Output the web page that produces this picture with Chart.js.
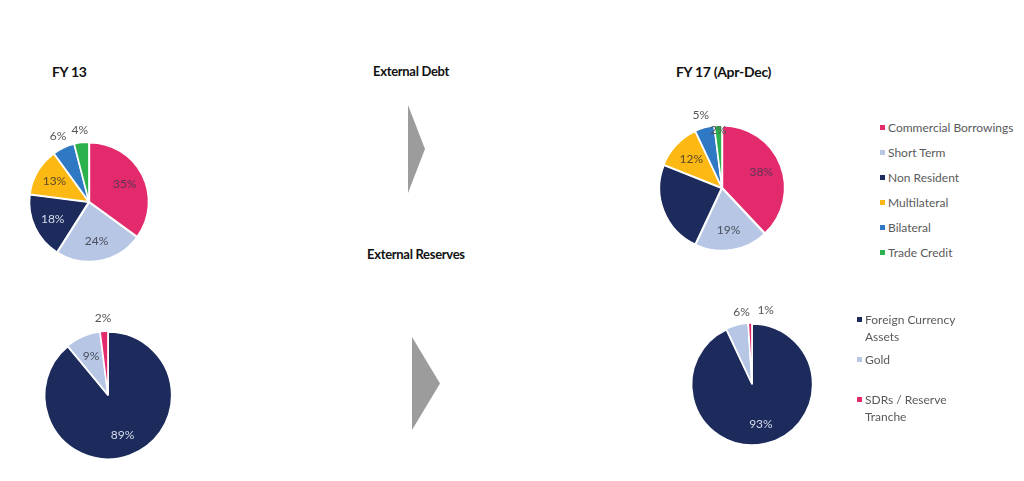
<!DOCTYPE html>
<html>
<head>
<meta charset="utf-8">
<script src="https://cdn.jsdelivr.net/npm/chart.js@4/dist/chart.umd.min.js"></script>
<style>
  body { margin: 0; background: #fff; font-family: Lato, "Open Sans", sans-serif; }
  #wrap { position: relative; width: 1024px; height: 481px; overflow: hidden; }
  canvas { position: absolute; }
  .title { position: absolute; font-weight: bold; color: #111; white-space: nowrap; letter-spacing: -0.3px; }
  .arrow { position: absolute; background: #9c9c9c; clip-path: polygon(0 0, 100% 50%, 0 100%); }
  .legend { position: absolute; font-size: 12px; color: #5a5a5a; line-height: 17px; }
  .legend .item { position: relative; padding-left: 8px; white-space: nowrap; }
  .legend .mark { position: absolute; left: 0; top: 6px; width: 5px; height: 5px; }
</style>
</head>
<body>
<div id="wrap">
  <div class="title" style="left:52px; top:63px; font-size:14px;">FY 13</div>
  <div class="title" style="left:373px; top:63px; font-size:13px;">External Debt</div>
  <div class="title" style="left:367px; top:246px; font-size:13px;">External Reserves</div>
  <div class="title" style="left:676px; top:63px; font-size:14px;">FY 17 (Apr-Dec)</div>
  <div class="arrow" style="left:408px; top:105px; width:17px; height:88px;"></div>
  <div class="arrow" style="left:412px; top:337px; width:28px; height:93px;"></div>
  <canvas id="debt13" width="220" height="220" style="left:-21px; top:92px;"></canvas>
  <canvas id="debt17" width="220" height="220" style="left:612px; top:78px;"></canvas>
  <canvas id="res13" width="220" height="220" style="left:-2px; top:285px;"></canvas>
  <canvas id="res17" width="220" height="220" style="left:642px; top:274px;"></canvas>
  <div class="legend" id="debtLegend" style="left:880px; top:119px;"></div>
  <div class="legend" id="resLegend" style="left:857px; top:311px;"></div>
</div>
<script>
// External debt composition (%)
const debtLabels = ['Commercial Borrowings', 'Short Term', 'Non Resident', 'Multilateral', 'Bilateral', 'Trade Credit'];
const debtFY13 = [35, 24, 18, 13, 6, 4];
const debtFY17 = [38, 19, 24, 12, 5, 2];

// External reserves composition (%)
const resLabels = ['Foreign Currency Assets', 'Gold', 'SDRs / Reserve Tranche'];
const resFY13 = [89, 9, 2];
const resFY17 = [93, 6, 1];

const debtColors = ['#e32a6d', '#b6c6e4', '#1d2b5c', '#fdb913', '#2f78c4', '#2bb24c'];
const resColors = ['#1d2b5c', '#b6c6e4', '#e32a6d'];

// label text colour by slice colour
const labelInk = {
    '#e32a6d': '#5d3553',
    '#b6c6e4': '#4a4f5c',
    '#1d2b5c': '#d6dcea',
    '#fdb913': '#5a4a2a',
    '#2f78c4': '#555555',
    '#2bb24c': '#555555'
};

// draws the percent labels on or beside each slice
const sliceLabels = {
    id: 'sliceLabels',
    afterDatasetsDraw(chart, args, opts) {
        const ctx = chart.ctx;
        const ds = chart.data.datasets[0];
        const hide = opts.hide || [];
        const near = opts.near || {};
        const shift = opts.shift || {};
        chart.getDatasetMeta(0).data.forEach((arc, i) => {
            if (hide.includes(i)) return;
            const v = ds.data[i];
            const p = arc.getProps(['x', 'y', 'startAngle', 'endAngle', 'outerRadius']);
            const mid = (p.startAngle + p.endAngle) / 2;
            const outside = v <= 6;
            let ratio = outside ? 1.23 : 0.68;
            if (near[i] !== undefined) ratio = near[i];
            let x = p.x + Math.cos(mid) * p.outerRadius * ratio;
            const y = p.y + Math.sin(mid) * p.outerRadius * ratio;
            if (shift[i]) x += shift[i];
            ctx.save();
            ctx.font = '12px Lato, "Open Sans", sans-serif';
            ctx.textAlign = 'center';
            ctx.textBaseline = 'middle';
            ctx.fillStyle = outside ? '#555555' : labelInk[ds.backgroundColor[i]];
            ctx.fillText(v + '%', x, y);
            ctx.restore();
        });
    }
};

function makePie(id, labels, data, colors, radius, labelOpts) {
    return new Chart(document.getElementById(id), {
        type: 'pie',
        data: {
            labels: labels,
            datasets: [{
                data: data,
                backgroundColor: colors,
                borderColor: '#ffffff',
                borderWidth: 1.5,
                offset: 2
            }]
        },
        options: {
            responsive: false,
            animation: false,
            radius: radius,
            plugins: {
                legend: { display: false },
                tooltip: { enabled: false },
                sliceLabels: labelOpts || {}
            }
        },
        plugins: [sliceLabels]
    });
}

makePie('debt13', debtLabels, debtFY13, debtColors, 59);
makePie('debt17', debtLabels, debtFY17, debtColors, 62, { hide: [2], near: { 5: 0.93 } });
makePie('res13', resLabels, resFY13, resColors, 63);
makePie('res17', resLabels, resFY17, resColors, 60, { shift: { 1: 8, 2: 16 } });

// html legends built from the label arrays
function buildLegend(el, labels, colors, gaps, wrapWidth) {
    labels.forEach((lab, i) => {
        const item = document.createElement('div');
        item.className = 'item';
        item.style.marginBottom = gaps[i] + 'px';
        if (wrapWidth) { item.style.whiteSpace = 'normal'; item.style.width = wrapWidth + 'px'; }
        const mark = document.createElement('span');
        mark.className = 'mark';
        mark.style.background = colors[i];
        item.appendChild(mark);
        item.appendChild(document.createTextNode(lab));
        el.appendChild(item);
    });
}
buildLegend(document.getElementById('debtLegend'), debtLabels, debtColors, [8, 8, 8, 8, 8, 8]);
buildLegend(document.getElementById('resLegend'), resLabels, resColors, [6, 23, 0], 105);
</script>
</body>
</html>
